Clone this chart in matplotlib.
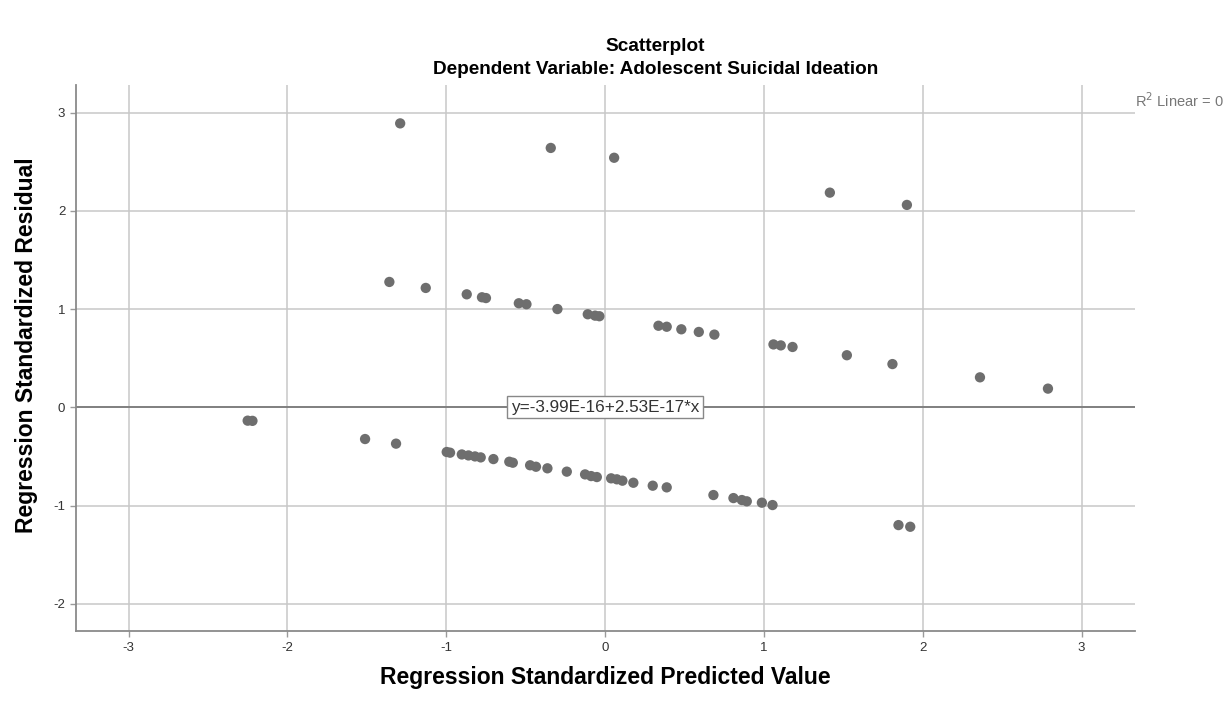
import numpy as np
import matplotlib.pyplot as plt

plt.rcParams['font.family'] = ['Liberation Sans', 'DejaVu Sans']
plt.rcParams['axes.unicode_minus'] = False

# upper band (outliers)
x_top = [-1.29, -0.342, 0.057, 1.415, 1.90]
y_top = [2.89, 2.64, 2.54, 2.185, 2.06]

# middle band
x_mid = [-1.358, -1.129, -0.871, -0.775, -0.75, -0.543, -0.495, -0.30, -0.109, -0.063, -0.036,
         0.336, 0.388, 0.48, 0.59, 0.688, 1.06, 1.106, 1.18, 1.522, 1.809, 2.36, 2.788]
y_mid = [1.276, 1.215, 1.15, 1.12, 1.112, 1.059, 1.049, 1.00, 0.947, 0.933, 0.927,
         0.83, 0.82, 0.794, 0.767, 0.74, 0.64, 0.63, 0.614, 0.53, 0.44, 0.305, 0.19]

# lower band
x_low = [-2.25, -2.22, -1.511, -1.316, -0.997, -0.976, -0.902, -0.86, -0.819, -0.783,
         -0.703, -0.603, -0.581, -0.472, -0.435, -0.363, -0.241, -0.126, -0.088, -0.052,
         0.038, 0.074, 0.109, 0.178, 0.30, 0.388, 0.682, 0.808, 0.861, 0.892, 0.987, 1.054,
         1.847, 1.921]
y_low = [-0.136, -0.138, -0.323, -0.37, -0.455, -0.462, -0.48, -0.49, -0.50, -0.51,
         -0.527, -0.554, -0.564, -0.59, -0.605, -0.621, -0.655, -0.683, -0.70, -0.71,
         -0.723, -0.733, -0.747, -0.768, -0.798, -0.815, -0.893, -0.924, -0.944, -0.957, -0.971, -0.995,
         -1.199, -1.216]

xs = x_top + x_mid + x_low
ys = y_top + y_mid + y_low

fit_b0 = -3.99e-16
fit_b1 = 2.53e-17

fig = plt.figure(figsize=(12.32, 7.03), dpi=100)
ax = fig.add_axes([0.0614, 0.102, 0.86, 0.777])

ax.set_xlim(-3.333, 3.337)
ax.set_ylim(-2.28, 3.28)
ax.set_xticks([-3, -2, -1, 0, 1, 2, 3])
ax.set_yticks([-2, -1, 0, 1, 2, 3])
ax.grid(True, color='#c8c8c8', linewidth=1.1)
ax.set_axisbelow(True)

# fit line
lx = np.array([-3.333, 3.337])
ax.plot(lx, fit_b0 + fit_b1 * lx, color='#7a7a7a', linewidth=1.3, zorder=2)

ax.scatter(xs, ys, s=55, color='#6e6e6e', edgecolors='none', zorder=3)

for side in ['top', 'right']:
    ax.spines[side].set_visible(False)
for side in ['left', 'bottom']:
    ax.spines[side].set_color('#8a8a8a')
    ax.spines[side].set_linewidth(1.3)
ax.tick_params(colors='#9a9a9a', labelcolor='#333333', labelsize=9.5, length=4, width=1)

ax.text(0.0, 0.0, 'y=-3.99E-16+2.53E-17*x', ha='center', va='center', fontsize=12.3,
        color='#333333', bbox=dict(boxstyle='square,pad=0.2', fc='white', ec='#888888', lw=1),
        zorder=4)

fig.text(0.921, 0.857, r'R$^2$ Linear = 0', fontsize=10.5, color='#777777', ha='left', va='center')

fig.text(0.532, 0.934, 'Scatterplot', ha='center', va='center', fontsize=13.7, fontweight='bold')
fig.text(0.532, 0.901, 'Dependent Variable: Adolescent Suicidal Ideation', ha='center', va='center',
         fontsize=13.7, fontweight='bold')

ax.set_xlabel('Regression Standardized Predicted Value', fontsize=16.5, fontweight='bold', labelpad=9)
ax.set_ylabel('Regression Standardized Residual', fontsize=16.5, fontweight='bold', labelpad=11)
ax.yaxis.label.set_y(0.524)

fig.savefig('out.png', dpi=100)
